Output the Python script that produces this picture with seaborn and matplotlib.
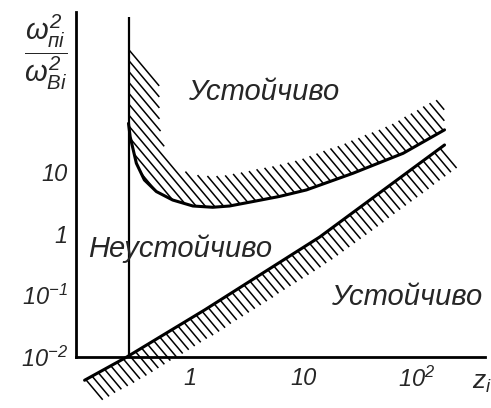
import numpy as np
import pandas as pd
import matplotlib
matplotlib.use("Agg")
import matplotlib.pyplot as plt
import seaborn as sns
from matplotlib.collections import LineCollection
from matplotlib.transforms import IdentityTransform

# Upper stability boundary: omega_pi^2/omega_Bi^2 against z_i
upper_z = [0.29, 0.30, 0.34, 0.40, 0.51, 0.71, 1.07, 1.6, 2.25, 3.6, 6.2, 10.7, 27.5, 76, 176]
upper_r = [61, 37, 13.8, 7.4, 4.8, 3.5, 2.8, 2.67, 2.8, 3.3, 4.0, 5.1, 9.5, 20, 48]

# Lower stability boundary (continues slightly below the axis)
lower_z = [0.119, 0.28, 1.36, 14.0, 176]
lower_r = [0.0042, 0.01, 0.058, 0.88, 27.3]

# Vertical asymptote on the left
wall_z = 0.29
wall_r = [0.01, 3200]
wall_hatch_top = 1300

x_ticks = [0.1, 1, 10, 100]
x_labels = ["", "1", "10", r"$10^{2}$"]
y_ticks = [0.01, 0.1, 1, 10, 100, 1000]
y_labels = [r"$10^{-2}$", r"$10^{-1}$", "1", "10", "", ""]

region_names = ["Устойчиво", "Неустойчиво", "Устойчиво"]
region_z = [4.49, 0.82, 82]
region_r = [197, 0.58, 0.094]

sns.set_style("white")
FAMILY = ["Liberation Sans", "DejaVu Sans"]
plt.rcParams["font.family"] = FAMILY
plt.rcParams["mathtext.fontset"] = "custom"
plt.rcParams["mathtext.rm"] = "Liberation Sans:italic"
plt.rcParams["mathtext.it"] = "Liberation Sans:italic"
plt.rcParams["mathtext.default"] = "it"

fig = plt.figure(figsize=(4.91, 4.08), dpi=100)
ax = fig.add_axes([0.1548, 0.125, 0.833, 0.8456])
ax.set_xscale("log")
ax.set_yscale("log")
ax.set_xlim(0.1, 400)
ax.set_ylim(0.01, 3900)

df = pd.concat([
    pd.DataFrame({"z": upper_z, "r": upper_r, "curve": "upper"}),
    pd.DataFrame({"z": lower_z, "r": lower_r, "curve": "lower"}),
])
sns.lineplot(data=df, x="z", y="r", units="curve", estimator=None, sort=False,
             color="black", linewidth=2.2, ax=ax)
for ln in ax.lines:
    ln.set_clip_on(False)
ax.vlines(wall_z, wall_r[0], wall_r[1], color="black", linewidth=1.6, clip_on=False)

# axes styling
for side in ("top", "right"):
    ax.spines[side].set_visible(False)
for side in ("left", "bottom"):
    ax.spines[side].set_linewidth(2.0)
    ax.spines[side].set_color("black")
ax.set_xticks(x_ticks)
ax.set_xticklabels(x_labels)
ax.set_yticks(y_ticks)
ax.set_yticklabels(y_labels)
ax.minorticks_off()
ax.tick_params(axis="both", direction="in", length=8, width=1.3, color="black",
               labelsize=17)
ax.tick_params(axis="x", pad=7)
ax.tick_params(axis="y", pad=6)
for lbl in ax.get_xticklabels() + ax.get_yticklabels():
    lbl.set_fontstyle("italic")
    lbl.set_family(FAMILY)
ax.set_xlabel("")
ax.set_ylabel("")

# region names
for name, zx, ry in zip(region_names, region_z, region_r):
    ax.text(zx, ry, name, fontsize=21, fontstyle="italic", family=FAMILY,
            ha="center", va="center")

fig.text(46 / 491, 1 - 52 / 408, r"$\dfrac{\omega^{2}_{пi}}{\omega^{2}_{Bi}}$",
         fontsize=21, ha="center", va="center")
fig.text(482 / 491, 1 - 383 / 408, r"$z_i$", fontsize=19, ha="center", va="center")

# ---- hatching along the boundaries, built in pixel space ----
to_px = ax.transData.transform


def densify(pts, step=1.0):
    out = [pts[:1]]
    for a, b in zip(pts[:-1], pts[1:]):
        n = max(int(np.ceil(np.hypot(*(b - a)) / step)), 1)
        t = np.linspace(0, 1, n + 1)[1:, None]
        out.append(a + (b - a) * t)
    return np.vstack(out)


theta = np.deg2rad(50)
u = np.array([np.cos(theta), -np.sin(theta)])   # stroke direction
nrm = np.array([np.sin(theta), np.cos(theta)])  # across strokes


def strokes(inside, guide, width, spacing=7.0, step=0.5):
    lo = guide.min(0) - width - 5
    hi = guide.max(0) + width + 5
    corners = np.array([[lo[0], lo[1]], [lo[0], hi[1]], [hi[0], lo[1]], [hi[0], hi[1]]])
    cs, ss = corners @ nrm, corners @ u
    s = np.arange(ss.min(), ss.max(), step)
    segs = []
    for c in np.arange(np.floor(cs.min() / spacing) * spacing, cs.max(), spacing):
        p = c * nrm + s[:, None] * u
        mask = inside(p)
        idx = np.where(mask)[0]
        if idx.size:
            q = p[idx]
            d = np.sqrt(((q[:, None, :] - guide[None, :, :]) ** 2).sum(-1)).min(1)
            mask[idx[d > width]] = False
        m = np.concatenate([[False], mask, [False]]).astype(int)
        starts = np.where(np.diff(m) == 1)[0]
        ends = np.where(np.diff(m) == -1)[0] - 1
        for a, b in zip(starts, ends):
            if b > a:
                segs.append([p[a], p[b]])
    return segs


# upper band: right of the wall and above the curve
curve_px = densify(to_px(np.column_stack([upper_z, upper_r])))
wall_px = densify(to_px(np.array([[wall_z, wall_hatch_top], [wall_z, upper_r[0]]])))
X0 = wall_px[0, 0]
top_c = wall_px[0] @ nrm
W_up = 31


def inside_upper(p):
    x, y = p[:, 0], p[:, 1]
    ok = (x >= X0) & (x <= curve_px[-1, 0]) & (y >= np.interp(x, curve_px[:, 0], curve_px[:, 1]))
    ok &= ~((x < X0 + W_up + 3) & (p @ nrm > top_c))
    return ok


segs_up = strokes(inside_upper, np.vstack([wall_px, curve_px]), W_up)

# lower band: below and to the right of the lower line
line_px = densify(to_px(np.column_stack([lower_z, lower_r])))
A, B = line_px[0], line_px[-1]
L = np.hypot(*(B - A))
dvec = (B - A) / L


def inside_lower(p):
    proj = (p - A) @ dvec
    ok = (proj >= 0) & (proj <= L)
    ok &= p[:, 1] <= np.interp(p[:, 0], line_px[:, 0], line_px[:, 1])
    return ok


segs_low = strokes(inside_lower, line_px, 26)

for segs in (segs_up, segs_low):
    lc = LineCollection(segs, colors="black", linewidths=1.1,
                        transform=IdentityTransform(), clip_on=False)
    fig.add_artist(lc)

fig.savefig("out.png", dpi=100)
